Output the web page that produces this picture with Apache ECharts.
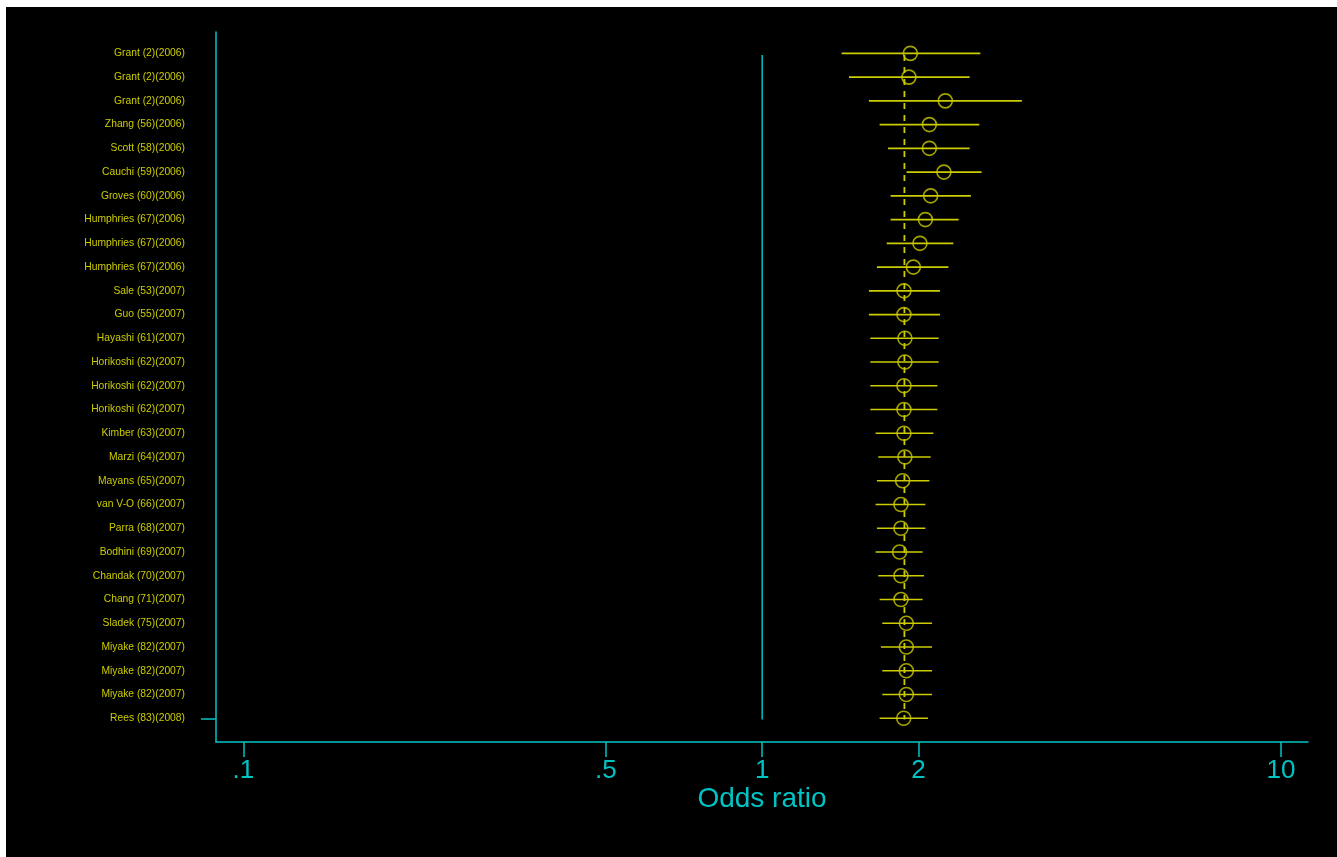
<!DOCTYPE html>
<html>
<head>
<meta charset="utf-8">
<script src="https://cdn.jsdelivr.net/npm/echarts@6/dist/echarts.min.js"></script>
<style>
html,body{margin:0;padding:0;background:#fff;}
#c{position:absolute;left:6px;top:7px;width:1331px;height:850px;background:#000;}
</style>
</head>
<body>
<div id="c"></div>
<script>
const studies = [
  "Grant (2)(2006)","Grant (2)(2006)","Grant (2)(2006)","Zhang (56)(2006)","Scott (58)(2006)",
  "Cauchi (59)(2006)","Groves (60)(2006)","Humphries (67)(2006)","Humphries (67)(2006)","Humphries (67)(2006)",
  "Sale (53)(2007)","Guo (55)(2007)","Hayashi (61)(2007)","Horikoshi (62)(2007)","Horikoshi (62)(2007)",
  "Horikoshi (62)(2007)","Kimber (63)(2007)","Marzi (64)(2007)","Mayans (65)(2007)","van V-O (66)(2007)",
  "Parra (68)(2007)","Bodhini (69)(2007)","Chandak (70)(2007)","Chang (71)(2007)","Sladek (75)(2007)",
  "Miyake (82)(2007)","Miyake (82)(2007)","Miyake (82)(2007)","Rees (83)(2008)"
];
const oddsRatio = [1.930,1.918,2.254,2.100,2.100,2.240,2.112,2.063,2.014,1.956,
  1.876,1.876,1.884,1.884,1.876,1.876,1.876,1.884,1.865,1.851,
  1.851,1.840,1.851,1.851,1.896,1.896,1.896,1.896,1.874];
const lowerCI = [1.423,1.470,1.606,1.684,1.748,1.898,1.768,1.768,1.738,1.664,
  1.606,1.606,1.616,1.616,1.616,1.616,1.654,1.674,1.664,1.654,
  1.664,1.654,1.674,1.684,1.704,1.694,1.704,1.704,1.684];
const upperCI = [2.633,2.511,3.166,2.621,2.511,2.648,2.525,2.391,2.336,2.285,
  2.201,2.201,2.188,2.188,2.176,2.176,2.138,2.112,2.100,2.063,
  2.063,2.038,2.050,2.038,2.125,2.125,2.125,2.125,2.087];
const pooledOR = 1.88;
const nullOR = 1;
const xTicks = [0.1, 0.5, 1, 2, 10];
const xTickLabels = [".1", ".5", "1", "2", "10"];

const YEL = '#cccc00';
const CYAN = '#00c4c4';

const rows = studies.map((s, i) => i + 1);
const ciData = studies.map((s, i) => [lowerCI[i], upperCI[i], i + 1]);
const ptData = studies.map((s, i) => [oddsRatio[i], i + 1]);

const chart = echarts.init(document.getElementById('c'));
chart.setOption({
  backgroundColor: '#000',
  animation: false,
  grid: {left: 210, right: 29, top: 25, bottom: 115},
  xAxis: {
    type: 'log', logBase: 10,
    min: 0.0886, max: 11.27,
    name: 'Odds ratio', nameLocation: 'middle', nameGap: 43, nameMoveOverlap: false,
    nameTextStyle: {color: CYAN, fontSize: 28, fontFamily: 'Liberation Sans, Arial'},
    axisLine: {show: true, lineStyle: {color: CYAN, width: 1.5}},
    axisTick: {show: true, length: 15, customValues: xTicks, lineStyle: {color: CYAN, width: 1.5}},
    axisLabel: {
      color: CYAN, fontSize: 26, fontFamily: 'Liberation Sans, Arial', margin: 16,
      customValues: xTicks,
      formatter: v => { const k = xTicks.findIndex(t => Math.abs(t - v) < 1e-9); return k >= 0 ? xTickLabels[k] : ''; }
    },
    splitLine: {show: false}, minorTick: {show: false}
  },
  yAxis: {
    type: 'value', inverse: true, min: 0.1, max: 30,
    axisLine: {show: true, onZero: false, lineStyle: {color: CYAN, width: 1.5}},
    axisTick: {show: true, length: 15, customValues: [29], lineStyle: {color: CYAN, width: 1.5}},
    axisLabel: {
      color: YEL, fontSize: 10.3, fontFamily: 'Liberation Sans, Arial', margin: 31,
      customValues: rows,
      formatter: v => studies[Math.round(v) - 1] || ''
    },
    splitLine: {show: false}
  },
  series: [
    {
      type: 'line', data: [[nullOR, 1.07], [nullOR, 29.05]], symbol: 'none',
      lineStyle: {color: CYAN, width: 1.5}, z: 1
    },
    {
      type: 'line', data: [[pooledOR, 1.07], [pooledOR, 29.05]], symbol: 'none',
      lineStyle: {color: YEL, width: 1.8, type: [6, 6]}, z: 1
    },
    {
      type: 'custom', data: ciData, z: 2,
      renderItem: (params, api) => {
        const a = api.coord([api.value(0), api.value(2)]);
        const b = api.coord([api.value(1), api.value(2)]);
        return {type: 'line', shape: {x1: a[0], y1: a[1], x2: b[0], y2: b[1]},
          style: {stroke: YEL, lineWidth: 1.6}};
      }
    },
    {
      type: 'scatter', data: ptData, symbol: 'circle', symbolSize: 14, z: 3,
      itemStyle: {color: 'rgba(0,0,0,0)', borderColor: YEL, borderWidth: 1.6}
    }
  ]
});
</script>
</body>
</html>
